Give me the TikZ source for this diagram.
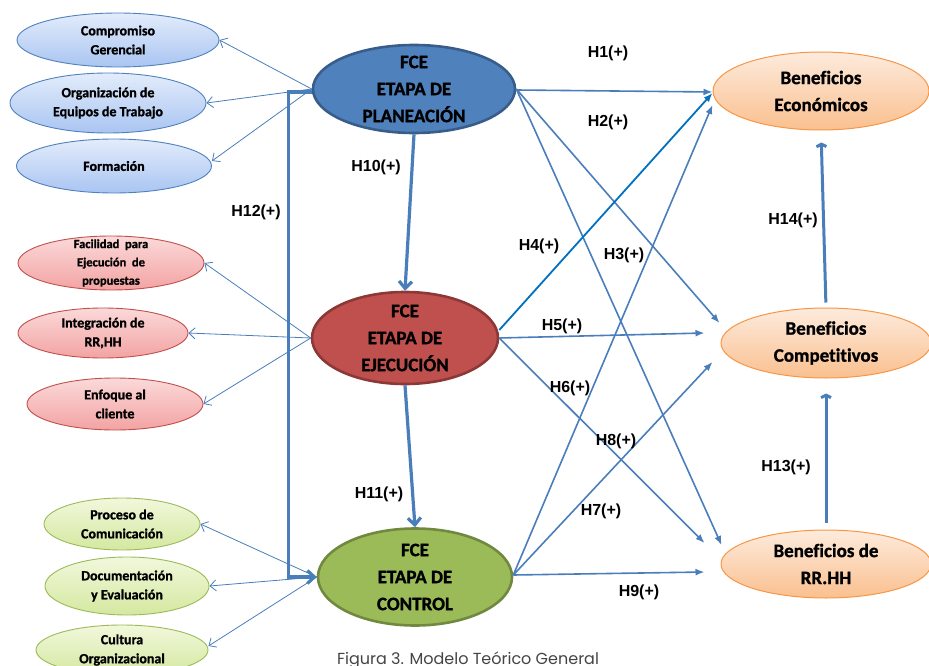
\documentclass[tikz,border=0pt]{standalone}
\usepackage{fontspec}
\setmainfont{Carlito}[Ligatures=NoCommon, BoldFeatures={FakeBold=1.2}]
\newfontfamily\labfont{Liberation Sans}
\newfontfamily\capfont{Poppins}
\usetikzlibrary{shapes.geometric,arrows.meta,calc}
\definecolor{lbT}{HTML}{E3ECFB}
\definecolor{lbB}{HTML}{A9C5F2}
\definecolor{lbD}{HTML}{4F81BD}
\definecolor{rdT}{HTML}{FBD9D9}
\definecolor{rdB}{HTML}{F3A3A3}
\definecolor{rdD}{HTML}{C0504D}
\definecolor{grT}{HTML}{F1F8DC}
\definecolor{grB}{HTML}{D4E8A0}
\definecolor{grD}{HTML}{9BBB59}
\definecolor{orT}{HTML}{FDEBDD}
\definecolor{orB}{HTML}{FAC08F}
\definecolor{orD}{HTML}{F79646}
\definecolor{planF}{HTML}{4F81BD}
\definecolor{planD}{HTML}{385D8A}
\definecolor{ejeF}{HTML}{C0504D}
\definecolor{ejeD}{HTML}{8C3836}
\definecolor{ctlF}{HTML}{9BBB59}
\definecolor{ctlD}{HTML}{71893F}
\definecolor{arr}{HTML}{4A7EBB}
\definecolor{arrdark}{HTML}{0070C0}
\definecolor{capgray}{HTML}{444444}
\begin{document}
\begin{tikzpicture}[x=1pt,y=-1pt,
  el/.style n args={2}{ellipse, minimum width=#1, minimum height=#2, inner sep=0pt},
  stxt/.style={align=center, inner sep=0pt, font=\bfseries\fontsize{14}{19}\selectfont},
  sstxt/.style={align=center, inner sep=0pt, font=\bfseries\fontsize{12.5}{18.3}\selectfont},
  mtxt/.style={align=center, inner sep=0pt, font=\bfseries\fontsize{19}{27}\selectfont},
  bluesat/.style={top color=lbT, bottom color=lbB, draw=lbD, line width=0.9pt},
  redsat/.style={top color=rdT, bottom color=rdB, draw=rdD, line width=0.9pt},
  greensat/.style={top color=grT, bottom color=grB, draw=grD, line width=0.9pt},
  orangesat/.style={top color=orT, bottom color=orB, draw=orD, line width=1pt},
  fb/.style={draw=arr, line width=0.8pt, -{Straight Barb[length=6pt,width=11pt]}},
  hyp/.style={draw=arr, line width=1.6pt, -{Latex[length=9pt,width=7pt]}},
  hypdark/.style={draw=arrdark, line width=1.8pt, -{Latex[length=9pt,width=7pt]}},
  thickar/.style={draw=arr, line width=3.2pt, -{Straight Barb[length=7pt,width=13pt]}},
  vert/.style={draw=arr, line width=3pt, -{Straight Barb[length=2.5pt,width=10pt]}},
  hlab/.style={inner sep=0pt, font=\labfont\bfseries\fontsize{16}{18}\selectfont}
]
\useasboundingbox (0,0) rectangle (929,666);

% left satellite nodes
\node[el={202pt}{54pt}, bluesat, label={[stxt]center:Compromiso\\Gerencial}] (comp) at (118,40) {};
\node[el={196pt}{60pt}, bluesat, label={[stxt]center:Organización de\\Equipos de Trabajo}] (orga) at (108,103) {};
\node[el={195pt}{54pt}, bluesat, label={[stxt]center:Formación}] (form) at (114,166) {};

\node[el={186pt}{54pt}, redsat, label={[sstxt]center:Facilidad\ \ para\\Ejecución\ \ de\\propuestas}] (faci) at (111,263) {};
\node[el={170pt}{50pt}, redsat, label={[stxt]center:Integración de\\RR,HH}] (inte) at (103,333) {};
\node[el={176pt}{52pt}, redsat, label={[stxt]center:Enfoque al\\cliente}] (enfo) at (115,404) {};

\node[el={156pt}{52pt}, greensat, label={[stxt]center:Proceso de\\Comunicación}] (proc) at (122,524) {};
\node[el={164pt}{58pt}, greensat, label={[stxt]center:Documentación\\y Evaluación}] (docu) at (127,586) {};
\node[el={172pt}{50pt}, greensat, label={[stxt]center:Cultura\\Organizacional}] (cult) at (122,650) {};

% main nodes
\node[el={202pt}{88pt}, fill=planF, draw=planD, line width=2.6pt, label={[mtxt]center:FCE\\ETAPA DE\\PLANEACIÓN}] (plan) at (414,89) {};
\node[el={186pt}{92pt}, fill=ejeF, draw=ejeD, line width=2.6pt, label={[mtxt]center:FCE\\ETAPA DE\\EJECUCIÓN}] (ejec) at (405,338) {};
\node[el={194pt}{97pt}, fill=ctlF, draw=ctlD, line width=2.6pt, label={[mtxt]center:FCE\\ETAPA DE\\CONTROL}] (ctrl) at (415,577) {};

% right nodes
\node[el={216pt}{78pt}, orangesat, label={[mtxt]center:Beneficios\\Económicos}] (econ) at (821,91) {};
\node[el={210pt}{70pt}, orangesat, label={[mtxt]center:Beneficios\\Competitivos}] (cmpt) at (826,343) {};
\node[el={210pt}{68pt}, orangesat, label={[mtxt]center:Beneficios de\\RR.HH}] (rrhh) at (826,564) {};

% feedback arrows to satellites
\draw[fb] (plan.west) -- (comp.east);
\draw[fb] (plan.west) -- (orga.east);
\draw[fb] (plan.west) -- ($(form.east)+(0,-5)$);
\draw[fb] (ejec.west) -- (faci.east);
\draw[fb] (ejec.west) -- (inte.east);
\draw[fb] (ejec.west) -- (enfo.east);
\draw[fb] (ctrl.west) -- (proc.east);
\draw[fb] (ctrl.west) -- (docu.east);
\draw[fb] (ctrl.west) -- ($(cult.east)+(0,-4)$);

% H12
\draw[thickar] ([yshift=-3pt]plan.west) -- ++(-23,0) |- (ctrl.west);
% H10, H11
\draw[thickar] (plan.south) -- (ejec.north);
\draw[thickar] (ejec.south) -- (ctrl.north);

% hypotheses to benefits
\draw[hyp] ([yshift=-1pt]plan.east) -- ([yshift=-1pt]econ.west);
\draw[hyp] (plan.east) -- ($(cmpt.west)+(-1,-20)$);
\draw[hyp] (plan.east) -- ($(rrhh.west)+(1,-19)$);
\draw[hypdark] ([yshift=8pt]ejec.east) -- ([yshift=-2pt]econ.west);
\draw[hyp] (ejec.east) -- ($(cmpt.west)+(-16,-10)$);
\draw[hyp] (ejec.east) -- ($(rrhh.west)+(-16,-21)$);
\draw[hyp] ([yshift=2pt]ctrl.east) -- ($(econ.west)+(0,14)$);
\draw[hyp] ([yshift=2pt]ctrl.east) -- ($(cmpt.west)+(-8,19)$);
\draw[hyp] ([yshift=2pt]ctrl.east) -- ($(rrhh.west)+(-16,8)$);

% H13, H14
\draw[vert, shorten <=5pt, shorten >=12pt] (cmpt.north) -- (econ.south);
\draw[vert, shorten <=7pt, shorten >=15pt] (rrhh.north) -- (cmpt.south);

% labels
\node[hlab] (l1) at (608,53) {H1(+)};
\node[hlab] (l2) at (608,122) {H2(+)};
\node[hlab] (l3) at (624,255) {H3(+)};
\node[hlab] (l4) at (539,246) {H4(+)};
\node[hlab] (l5) at (562,326) {H5(+)};
\node[hlab] (l6) at (570,388) {H6(+)};
\node[hlab] (l8) at (616,441) {H8(+)};
\node[hlab] (l7) at (601,511) {H7(+)};
\node[hlab] (l9) at (639,592) {H9(+)};
\node[hlab] (l10) at (376,167) {H10(+)};
\node[hlab] (l11) at (379,494) {H11(+)};
\node[hlab] (l12) at (256,212) {H12(+)};
\node[hlab] (l13) at (786,467) {H13(+)};
\node[hlab] (l14) at (793,220) {H14(+)};

% caption
\node[anchor=base, inner sep=0pt, text=capgray, font=\capfont\fontsize{16}{18}\selectfont] (cap) at (468,664) {Figura 3. Modelo Teórico General};
\end{tikzpicture}
\end{document}
